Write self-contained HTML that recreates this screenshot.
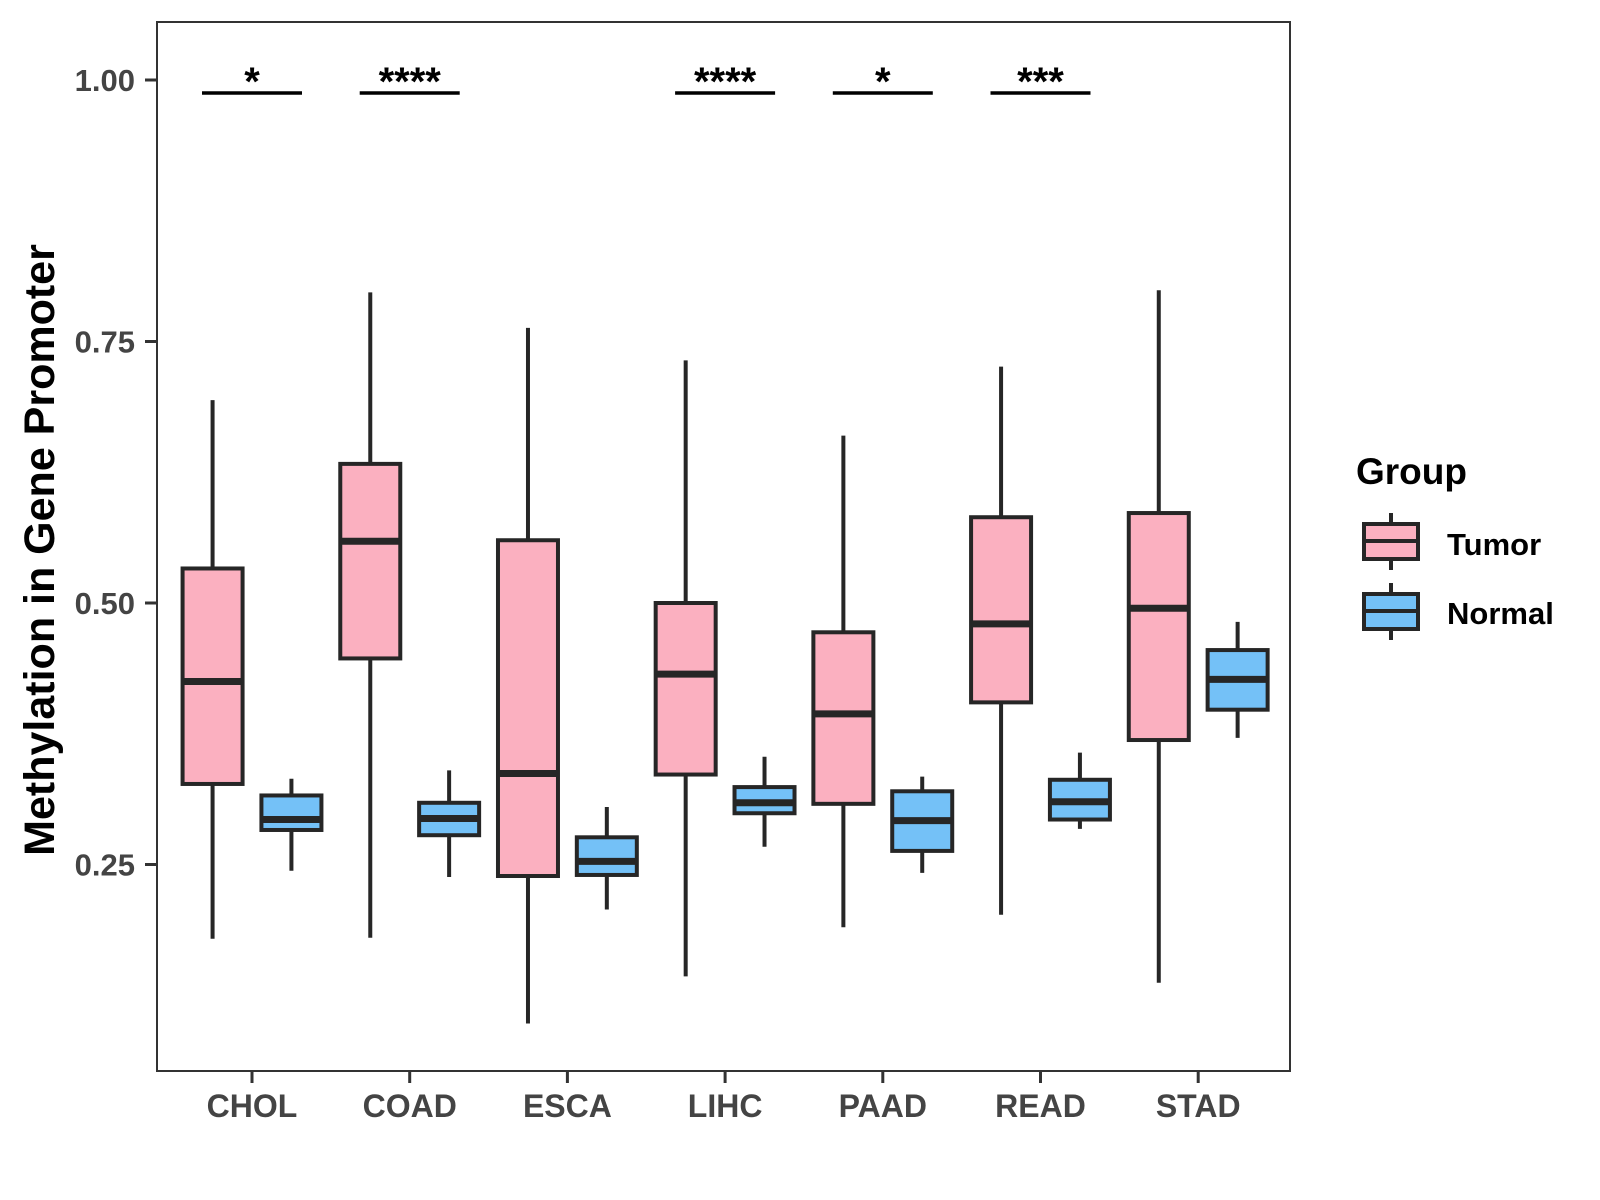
<!DOCTYPE html>
<html><head><meta charset="utf-8"><style>
html,body{margin:0;padding:0;background:#fff;}
svg{display:block;font-family:"Liberation Sans",Arial,sans-serif;font-weight:bold;}
</style></head><body>
<svg id="chart" width="1600" height="1200" viewBox="0 0 1600 1200" xmlns="http://www.w3.org/2000/svg">
<rect x="157" y="22" width="1133" height="1049" fill="#fff" stroke="#333" stroke-width="2"/>
<g id="marks"></g>
<text transform="translate(54,550) rotate(-90)" text-anchor="middle" font-size="43" fill="#000">Methylation in Gene Promoter</text>
<g>
<text x="1356" y="484" font-size="37" fill="#000">Group</text>
<g>
<line x1="1391" y1="513" x2="1391" y2="570" stroke="#262626" stroke-width="4"/>
<rect x="1364" y="524" width="54" height="35" fill="#FBB0C0" stroke="#262626" stroke-width="4"/>
<line x1="1364" y1="541" x2="1418" y2="541" stroke="#262626" stroke-width="4"/>
<text x="1447" y="555" font-size="31" fill="#000">Tumor</text>
</g>
<g>
<line x1="1391" y1="583" x2="1391" y2="640" stroke="#262626" stroke-width="4"/>
<rect x="1364" y="594" width="54" height="35" fill="#74C1F7" stroke="#262626" stroke-width="4"/>
<line x1="1364" y1="611" x2="1418" y2="611" stroke="#262626" stroke-width="4"/>
<text x="1447" y="624" font-size="31" fill="#000">Normal</text>
</g>
</g>
</svg>
<script>
const categories = ["CHOL","COAD","ESCA","LIHC","PAAD","READ","STAD"];
// [low, q1, median, q3, high]
const tumorStats = [
 [0.179,0.327,0.425,0.533,0.694],
 [0.180,0.447,0.559,0.633,0.797],
 [0.098,0.239,0.337,0.560,0.763],
 [0.143,0.336,0.432,0.500,0.732],
 [0.190,0.308,0.394,0.472,0.660],
 [0.202,0.405,0.480,0.582,0.726],
 [0.137,0.369,0.495,0.586,0.799]
];
const normalStats = [
 [0.244,0.283,0.293,0.316,0.332],
 [0.238,0.278,0.294,0.309,0.340],
 [0.207,0.240,0.253,0.276,0.305],
 [0.267,0.299,0.309,0.324,0.353],
 [0.242,0.263,0.292,0.320,0.334],
 [0.284,0.293,0.310,0.331,0.357],
 [0.371,0.398,0.427,0.455,0.482]
];
const sigLabels = ["*","****","","****","*","***",""];
const yTicks = [0.25,0.50,0.75,1.00];
const yTickLabels = ["0.25","0.50","0.75","1.00"];

const NS = "http://www.w3.org/2000/svg";
const g = document.getElementById('marks');
const band = 157.7, x0 = 252;
function xPos(i){ return x0 + i*band; }
function yPos(v){ return 80 + (1 - v)*1046; }
function mk(tag, attrs){ const e=document.createElementNS(NS,tag); for(const k in attrs) e.setAttribute(k,attrs[k]); g.appendChild(e); return e; }

yTicks.forEach((v,i)=>{
  const t = mk('line',{x1:145,x2:157,y1:yPos(v),y2:yPos(v),stroke:'#333','stroke-width':3});
  
  
  const l = mk('text',{x:135,y:yPos(v)+11,'text-anchor':'end','font-size':31,fill:'#444'});
  l.textContent = yTickLabels[i];
  
  
});
categories.forEach((c,i)=>{
  const x = xPos(i);
  const t = mk('line',{x1:x,x2:x,y1:1071,y2:1083,stroke:'#333','stroke-width':3});
  
  
  const l = mk('text',{x:x,y:1117,'text-anchor':'middle','font-size':32,fill:'#444'});
  l.textContent = c;
  
  
});
function drawBox(cx, s, fill, name){
  const w = 60;
  const wl = mk('line',{x1:cx,x2:cx,y1:yPos(s[0]),y2:yPos(s[4]),stroke:'#262626','stroke-width':4});
  
  
  const r = mk('rect',{x:cx-w/2,y:yPos(s[3]),width:w,height:yPos(s[1])-yPos(s[3]),fill:fill,stroke:'#262626','stroke-width':4});
  
  
  const m = mk('line',{x1:cx-w/2,x2:cx+w/2,y1:yPos(s[2]),y2:yPos(s[2]),stroke:'#262626','stroke-width':7});
  
  
}
categories.forEach((c,i)=>{
  const x = xPos(i);
  drawBox(x - band*0.25, tumorStats[i], '#FBB0C0', 'tumor-' + c.toLowerCase());
  drawBox(x + band*0.25, normalStats[i], '#74C1F7', 'normal-' + c.toLowerCase());
  if(sigLabels[i]){
    const b = mk('line',{x1:x-50,x2:x+50,y1:93,y2:93,stroke:'#000','stroke-width':3.5});
    
    
    const s = mk('text',{x:x,y:95,'text-anchor':'middle','font-size':40,fill:'#000'});
    s.textContent = sigLabels[i];
    
    
  }
});
</script>
</body></html>
